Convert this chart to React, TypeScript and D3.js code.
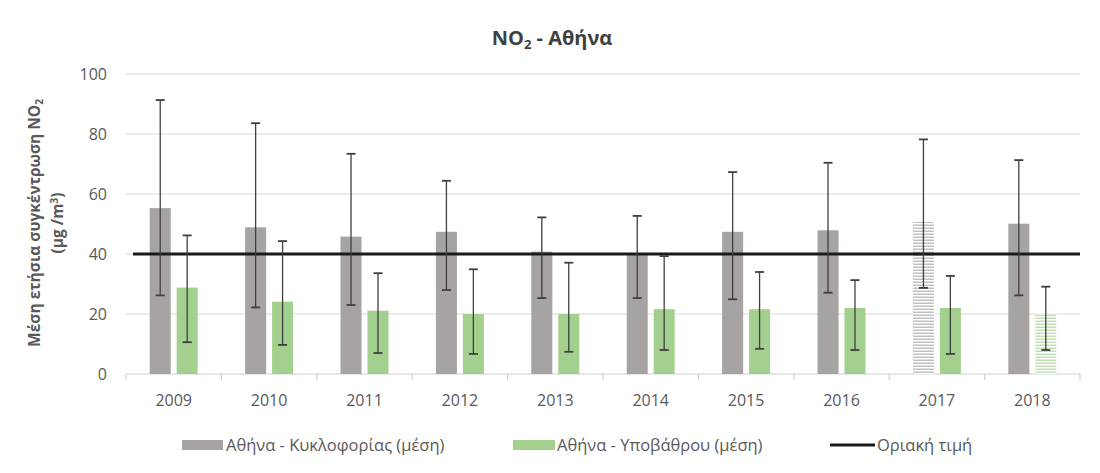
import React from 'react';
import * as d3 from 'd3';

// Data
const years = ['2009', '2010', '2011', '2012', '2013', '2014', '2015', '2016', '2017', '2018'];
const trafficMean = [55.3, 48.9, 45.8, 47.4, 40.8, 40.2, 47.4, 47.9, 50.7, 50.1];
const trafficHigh = [91.3, 83.6, 73.4, 64.4, 52.2, 52.7, 67.3, 70.4, 78.2, 71.3];
const trafficLow = [26.2, 22.2, 23.0, 28.0, 25.3, 25.3, 24.9, 27.1, 28.7, 26.2];
const backgroundMean = [28.8, 24.1, 21.1, 20.0, 20.0, 21.6, 21.6, 22.0, 22.0, 20.2];
const backgroundHigh = [46.2, 44.3, 33.6, 34.9, 37.1, 39.3, 34.0, 31.3, 32.7, 29.1];
const backgroundLow = [10.6, 9.7, 7.0, 6.7, 7.4, 8.0, 8.4, 8.0, 6.7, 8.0];
const trafficHatched = ['2017'];
const backgroundHatched = ['2018'];
const limitValue = 40;
const yTicks = [0, 20, 40, 60, 80, 100];

const seriesKeys = ['traffic', 'background'];
const legendLabels = ['Αθήνα - Κυκλοφορίας (μέση)', 'Αθήνα - Υποβάθρου (μέση)', 'Οριακή τιμή'];

const W = 1100;
const H = 473;
const margin = { top: 74, right: 20, bottom: 99, left: 126 };
const GRAY = '#a7a3a3';
const GREEN = '#a4d08f';
const TEXT = '#595959';
const FONT = '"Open Sans", "DejaVu Sans", sans-serif';

export default function App() {
  const innerW = W - margin.left - margin.right;
  const innerH = H - margin.top - margin.bottom;

  const x0 = d3.scaleBand().domain(years).range([0, innerW]).paddingInner(0).paddingOuter(0);
  const x1 = d3
    .scaleBand()
    .domain(seriesKeys)
    .range([0, x0.bandwidth()])
    .paddingInner(0.22)
    .paddingOuter(0.88);
  const y = d3.scaleLinear().domain([0, 100]).range([innerH, 0]);

  const rows = years.map((yr, i) => ({
    year: yr,
    values: [
      { key: 'traffic', mean: trafficMean[i], hi: trafficHigh[i], lo: trafficLow[i], hatched: trafficHatched.includes(yr) },
      { key: 'background', mean: backgroundMean[i], hi: backgroundHigh[i], lo: backgroundLow[i], hatched: backgroundHatched.includes(yr) },
    ],
  }));

  const fillFor = (key: string, hatched: boolean) => {
    if (key === 'traffic') return hatched ? 'url(#hatchGray)' : GRAY;
    return hatched ? 'url(#hatchGreen)' : GREEN;
  };

  const capHalf = 4.5;

  return (
    <svg
      width={W}
      height={H}
      style={{ position: 'absolute', left: 0, top: 0, background: '#fff' }}
      fontFamily={FONT}
    >
      <defs>
        <pattern id="hatchGray" patternUnits="userSpaceOnUse" width={4} height={3}>
          <rect width={4} height={3} fill="#fff" />
          <rect y={0.6} width={4} height={1.2} fill="#b4b1b1" />
        </pattern>
        <pattern id="hatchGreen" patternUnits="userSpaceOnUse" width={4} height={3}>
          <rect width={4} height={3} fill="#fff" />
          <rect y={0.6} width={4} height={1.2} fill="#b3d9a1" />
        </pattern>
      </defs>

      <rect width={W} height={H} fill="#fff" />

      {/* title */}
      <text x={552} y={45} textAnchor="middle" fontSize={20} fontWeight="bold" fill="#404040">
        NO<tspan fontSize={13} dy={4}>2</tspan>
        <tspan dy={-4}> - Αθήνα</tspan>
      </text>

      {/* y axis title */}
      <g transform={`translate(40, ${margin.top + innerH / 2 - 1}) rotate(-90)`}>
        <text textAnchor="middle" fontSize={15.5} fontWeight="bold" fill={TEXT}>
          Μέση ετήσια συγκέντρωση NO<tspan fontSize={10} dy={3}>2</tspan>
        </text>
        <text y={23} textAnchor="middle" fontSize={15.5} fontWeight="bold" fill={TEXT}>
          (μg /m<tspan fontSize={10} dy={-5}>3</tspan>
          <tspan dy={5}>)</tspan>
        </text>
      </g>

      <g transform={`translate(${margin.left},${margin.top})`}>
        {/* gridlines */}
        {yTicks.map((t) => (
          <g key={t}>
            {t > 0 && (
              <line x1={0} x2={innerW} y1={y(t)} y2={y(t)} stroke="#d9d9d9" strokeWidth={1.2} />
            )}
            <text x={-19} y={y(t)} dy="0.35em" textAnchor="end" fontSize={16} fill={TEXT}>
              {t}
            </text>
          </g>
        ))}

        {/* x axis */}
        <line x1={0} x2={innerW} y1={y(0)} y2={y(0)} stroke="#d0d0d0" strokeWidth={1.2} />
        {years.concat(['end']).map((yr, i) => {
          const xx = i < years.length ? (x0(yr) as number) : innerW;
          return <line key={yr} x1={xx} x2={xx} y1={y(0)} y2={y(0) + 6} stroke="#d0d0d0" strokeWidth={1.2} />;
        })}
        {years.map((yr) => (
          <text
            key={yr}
            x={(x0(yr) as number) + x0.bandwidth() / 2}
            y={y(0) + 32}
            textAnchor="middle"
            fontSize={16}
            fill={TEXT}
          >
            {yr}
          </text>
        ))}

        {/* bars */}
        {rows.map((r) => (
          <g key={r.year} transform={`translate(${x0(r.year)},0)`}>
            {r.values.map((v) => (
              <rect
                key={v.key}
                x={x1(v.key)}
                y={y(v.mean)}
                width={x1.bandwidth()}
                height={y(0) - y(v.mean)}
                fill={fillFor(v.key, v.hatched)}
              />
            ))}
          </g>
        ))}

        {/* limit line */}
        <line
          x1={7}
          x2={innerW}
          y1={y(limitValue)}
          y2={y(limitValue)}
          stroke="#1a1a1a"
          strokeWidth={3}
        />

        {/* error bars */}
        {rows.map((r) => (
          <g key={r.year} transform={`translate(${x0(r.year)},0)`}>
            {r.values.map((v) => {
              const cx = (x1(v.key) as number) + x1.bandwidth() / 2;
              return (
                <g key={v.key} stroke="#3f3f3f" strokeWidth={1.3}>
                  <line x1={cx} x2={cx} y1={y(v.hi)} y2={y(v.lo)} />
                  <line x1={cx - capHalf} x2={cx + capHalf} y1={y(v.hi)} y2={y(v.hi)} strokeWidth={1.8} />
                  <line x1={cx - capHalf} x2={cx + capHalf} y1={y(v.lo)} y2={y(v.lo)} strokeWidth={1.8} />
                </g>
              );
            })}
          </g>
        ))}
      </g>

      {/* legend */}
      <g fontSize={16.5} fill={TEXT}>
        <rect x={182} y={440} width={41} height={10} fill={GRAY} />
        <text x={226} y={445} dy="0.35em" fill={TEXT}>{legendLabels[0]}</text>
        <rect x={513} y={440} width={42} height={10} fill={GREEN} />
        <text x={557} y={445} dy="0.35em" fill={TEXT}>{legendLabels[1]}</text>
        <line x1={830} x2={875} y1={445} y2={445} stroke="#1a1a1a" strokeWidth={3} />
        <text x={877} y={445} dy="0.35em" fill={TEXT}>{legendLabels[2]}</text>
      </g>
    </svg>
  );
}
